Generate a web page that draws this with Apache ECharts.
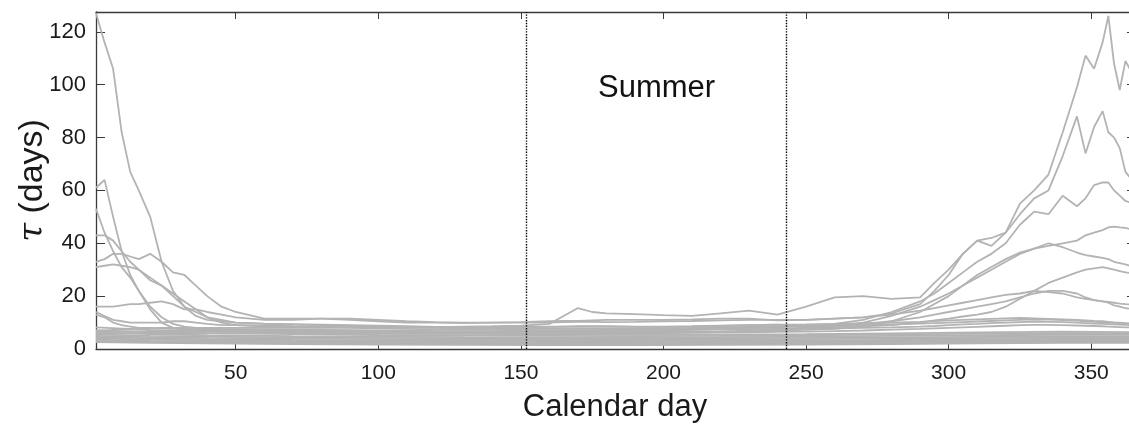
<!DOCTYPE html>
<html>
<head>
<meta charset="utf-8">
<script src="https://cdn.jsdelivr.net/npm/echarts@6/dist/echarts.min.js"></script>
<style>
    html, body { margin: 0; padding: 0; background: #fff; }
    #chart { width: 1129px; height: 426px; }
</style>
</head>
<body>
<div id="chart"></div>
<script type="text/javascript">
    // sample days for the detailed curves
    var days = [1,4,7,10,13,16,20,24,28,32,36,40,45,50,
        60,70,80,90,100,110,120,130,140,150,160,165,170,175,180,190,200,210,220,230,240,
        250,260,270,280,290,295,300,305,310,315,320,325,330,335,340,345,348,351,354,356,358,360,362,365];
    // coarser days for the flat curves in the bottom band
    var bandDays = [1,20,40,70,100,130,160,190,220,250,280,310,340,365];

    var xTicks = [50,100,150,200,250,300,350];
    var yTicks = [0,20,40,60,80,100,120];
    var summerStart = 152, summerEnd = 243;

    // tau (days) per curve, one value per entry of days
    var tau01 = [127,116,106,82,67,60,50,33,22,16,12.5,11,10.5,10,
        9.6,9.4,9.2,9,8.8,8.6,8.4,8.3,8.3,8.4,8.5,8.5,8.6,8.6,8.6,8.5,8.5,8.6,8.8,9,9.2,
        9.3,9.5,9.8,10,10.3,10.6,10.8,11,11.2,11.4,11.6,11.8,11.6,11.4,11.2,11,10.8,10.6,10.5,10.3,10.1,10,9.8,9.6];
    var tau02 = [61,64,50,37,28,22,15,10,8,7.5,7.2,7,7,6.8,
        6.8,6.6,6.5,6.4,6.3,6.2,6.1,6,6,6,6,6,6,6,6,6,6,6.1,6.2,6.3,6.5,
        6.6,6.8,7,7.3,7.6,7.8,8,8.2,8.4,8.6,8.8,9,9.1,9.1,9,8.9,8.8,8.7,8.6,8.5,8.4,8.3,8.2,8.1];
    var tau03 = [53,44,37,31,27,22,16,12,9.5,8.5,8,7.8,7.5,7.5,
        7.4,7.3,7.2,7.1,7,6.9,6.8,6.8,6.8,6.9,7,7,7,7.1,7.1,7.1,7.2,7.3,7.4,7.5,7.6,
        7.7,7.8,8,8.2,8.5,8.7,9,9.3,9.5,9.8,10,10.2,10.4,10.3,10.2,10,9.8,9.6,9.5,9.4,9.3,9.2,9.1,9];
    var tau04 = [43,43,41,37,33,30,27,24,21,18,15,12,10,9,
        8.6,8.4,8.2,8,7.8,7.6,7.4,7.3,7.3,7.5,7.6,7.6,7.6,7.6,7.5,7.5,7.6,7.8,8,8.2,8.4,
        8.5,8.7,9,9.3,9.6,9.8,10,10.2,10.4,10.6,10.8,11,11.2,11.1,10.9,10.7,10.5,10.3,10.1,10,9.9,9.8,9.7,9.5];
    var tau05 = [33,34,36,36,35,34,36,33,29,28,24,20,16,14,
        11.5,11.5,11.5,11,10.5,10,10,9.8,10,10,10,10.2,10.3,10.3,10.2,10.3,10.5,10.6,10.8,11,11,
        11,11.5,12,13.5,17,22,28,36,41,39,44,51,57,60,73,88,74,84,90,82,80,76,67,63];
    var tau06 = [31,31.5,32,31.5,31,30,26,24,20,16,14,12,11,10,
        9.5,9.2,9,8.8,8.5,8.3,8.2,8,8,8.2,8.4,8.5,8.5,8.5,8.5,8.4,8.4,8.5,8.7,9,9.2,
        8,8.3,8.6,9,10,10.8,11.5,12.3,13,14,16,19,22,25,27,29,30,30.5,31,30.5,30,29.5,29,28.5];
    var tau07 = [16,16,16,16.5,17,17,17.5,18,17,15,15,14,13,12,
        11,11,11.5,11.5,11,10.5,10.2,10,10,10.2,10.5,10.6,10.6,10.8,11,11,11,11.2,11.5,11.5,10.8,
        11,11.5,12,13,14.5,15.5,16.5,17.5,18.5,19.5,20.5,21,22,21.5,21,19.5,19,18.5,18,17.8,17.5,17.2,17,16.8];
    var tau08 = [14,12.5,11,10.5,10,10,10,10,10.5,10.5,10,9.5,9,9,
        8.8,8.6,8.5,8.4,8.3,8.2,8,7.8,7.8,7.8,7.8,7.8,7.8,7.8,7.8,7.8,7.9,8,8.2,8.4,8.6,
        8.8,9,9.5,10.5,12,13,14,15,16,17,18,19.5,21,22,22,21,19.5,18.5,18,17.5,16.5,16,15.5,15];
    var tau09 = [13,12,10,9,8.5,8,8,7.8,7.6,7.5,7.5,7.4,7.3,7.2,
        7.1,7,7,6.9,6.8,6.7,6.6,6.5,6.5,6.5,6.5,6.5,6.5,6.5,6.5,6.5,6.5,6.6,6.7,6.8,7,
        7.2,7.6,8.5,10.5,14,17,20,24,28,31,34,36.5,38,39,40,41,43,44,45,46,46.3,46,45.8,45];
    var tau10 = [7,7,7.2,7.4,7.5,7.6,7.8,8,8,8,8,8,8,8,
        8,8,8,8.2,8.3,8.3,8.3,8.5,8.6,8.8,9.5,12.5,15.5,14,13.5,13.2,12.8,12.5,13.5,14.5,13,
        16,19.5,20,19,19.5,25,30,36,41,42,44,55,60,66,82,99,111,106,116,126,108,98,109,103];
    var tau11 = [6.5,6.5,6.6,6.6,6.7,6.7,6.8,6.8,6.8,6.8,6.8,6.8,6.8,6.8,
        6.8,6.8,6.7,6.7,6.6,6.6,6.5,6.5,6.5,6.5,6.5,6.5,6.6,6.6,6.7,6.8,7,7.2,7.5,7.8,8.2,
        8.8,9.5,11,14,18,21,25,29,33,36,40,47,52,51,58,54,57,62,63,63,60,58,56,55];
    var tau12 = [5.8,5.8,5.9,5.9,6,6,6,6,6,6,6,6,6,6,
        6,6,6,5.9,5.9,5.8,5.8,5.8,5.8,5.8,5.8,5.8,5.8,5.9,6,6.1,6.2,6.4,6.6,6.9,7.2,
        7.8,8.5,10,12.5,16,18.5,21,24,27,30,33,36,38,40,38.5,36.5,35.5,35,34.5,34,33,32.5,32,31];

    // flat curves, one value per entry of bandDays
    var band01 = [8.2,7.2,6.6,6.2,5.9,5.7,5.5,5.4,5.4,5.6,5.9,6.3,6.6,6.4];
    var band02 = [7,6.4,6,5.6,5.3,5.1,5,4.9,5,5.2,5.5,5.8,6,5.9];
    var band03 = [6.2,5.6,5.2,4.9,4.7,4.5,4.4,4.4,4.5,4.7,5,5.2,5.4,5.3];
    var band04 = [5.5,5,4.7,4.4,4.2,4,3.9,3.9,4,4.2,4.4,4.6,4.8,4.8];
    var band05 = [5,4.5,4.2,3.9,3.7,3.5,3.4,3.4,3.5,3.7,3.9,4.1,4.3,4.3];
    var band06 = [4.5,4,3.7,3.4,3.2,3.1,3,3,3.1,3.2,3.4,3.6,3.8,3.8];
    var band07 = [4,3.6,3.3,3,2.8,2.7,2.6,2.6,2.7,2.8,3,3.2,3.4,3.4];
    var band08 = [3.5,3.1,2.8,2.6,2.4,2.3,2.2,2.2,2.3,2.4,2.6,2.8,3,3];
    var band09 = [3,2.7,2.4,2.2,2,1.9,1.8,1.8,1.9,2,2.2,2.4,2.6,2.6];
    var band10 = [2.6,2.3,2.1,1.9,1.7,1.6,1.5,1.5,1.6,1.7,1.9,2.1,2.3,2.3];

    var curves = [tau01,tau02,tau03,tau04,tau05,tau06,tau07,tau08,tau09,tau10,tau11,tau12];
    var bands = [band01,band02,band03,band04,band05,band06,band07,band08,band09,band10];

    var lineColor = '#b3b3b3';
    var axisColor = '#3a3a3a';
    var font = 'Liberation Sans, Arial, Helvetica, sans-serif';

    function pairs(xs, ys) {
        var out = [];
        for (var i = 0; i < xs.length; i++) {
            out.push([xs[i], ys[i]]);
        }
        return out;
    }

    function lineSeries(data) {
        return {
            type: 'line',
            data: data,
            showSymbol: false,
            symbol: 'none',
            silent: true,
            xAxisIndex: 0,
            yAxisIndex: 0,
            lineStyle: { color: lineColor, width: 1.8 },
            itemStyle: { color: lineColor }
        };
    }

    var series = [];
    for (var b = 0; b < bands.length; b++) {
        series.push(lineSeries(pairs(bandDays, bands[b])));
    }
    for (var c = 0; c < curves.length; c++) {
        series.push(lineSeries(pairs(days, curves[c])));
    }
    // summer boundaries
    series[0].markLine = {
        silent: true,
        symbol: 'none',
        label: { show: false },
        lineStyle: { color: '#000', type: 'dotted', width: 1.4 },
        data: [{ xAxis: summerStart }, { xAxis: summerEnd }]
    };

    var option = {
        animation: false,
        backgroundColor: '#fff',
        textStyle: { fontFamily: font },
        grid: { left: 96, top: 12, width: 1038, height: 337, containLabel: false, outerBoundsMode: 'none' },
        xAxis: [{
            type: 'value', min: 1, max: 365, position: 'bottom',
            axisLine: { onZero: false, lineStyle: { color: axisColor, width: 1.3 } },
            axisTick: { inside: true, length: 7, customValues: xTicks, lineStyle: { color: axisColor } },
            axisLabel: { customValues: xTicks, fontSize: 21, color: '#1a1a1a', margin: 14, fontFamily: font },
            splitLine: { show: false },
            name: 'Calendar day', nameLocation: 'middle', nameGap: 43,
            nameTextStyle: { fontSize: 31, color: '#1a1a1a', fontFamily: font }
        }, {
            type: 'value', min: 1, max: 365, position: 'top',
            axisLine: { onZero: false, lineStyle: { color: axisColor, width: 1.3 } },
            axisTick: { inside: true, length: 7, customValues: xTicks, lineStyle: { color: axisColor } },
            axisLabel: { show: false },
            splitLine: { show: false }
        }],
        yAxis: [{
            type: 'value', min: 0, max: 127.5, position: 'left',
            axisLine: { show: true, onZero: false, lineStyle: { color: axisColor, width: 1.3 } },
            axisTick: { show: true, inside: true, length: 9, customValues: yTicks, lineStyle: { color: axisColor } },
            axisLabel: { customValues: yTicks, fontSize: 22, color: '#1a1a1a', margin: 10, fontFamily: font },
            splitLine: { show: false },
            name: '{i|τ} (days)', nameLocation: 'middle', nameGap: 46, nameMoveOverlap: false,
            nameTextStyle: {
                fontSize: 34, color: '#1a1a1a', fontFamily: font,
                rich: { i: { fontSize: 34, fontStyle: 'italic', color: '#1a1a1a', fontFamily: 'DejaVu Serif, serif' } }
            }
        }, {
            type: 'value', min: 0, max: 127.5, position: 'right',
            axisLine: { show: true, onZero: false, lineStyle: { color: axisColor, width: 1.3 } },
            axisTick: { show: true, inside: true, length: 7, customValues: yTicks, lineStyle: { color: axisColor } },
            axisLabel: { show: false },
            splitLine: { show: false }
        }],
        graphic: [{
            type: 'text', left: 598, top: 73, silent: true,
            style: { text: 'Summer', fontSize: 31, fill: '#111', fontFamily: font }
        }],
        series: series
    };

    var myChart = echarts.init(document.getElementById('chart'), null, { renderer: 'canvas' });
    myChart.setOption(option);
</script>
</body>
</html>
